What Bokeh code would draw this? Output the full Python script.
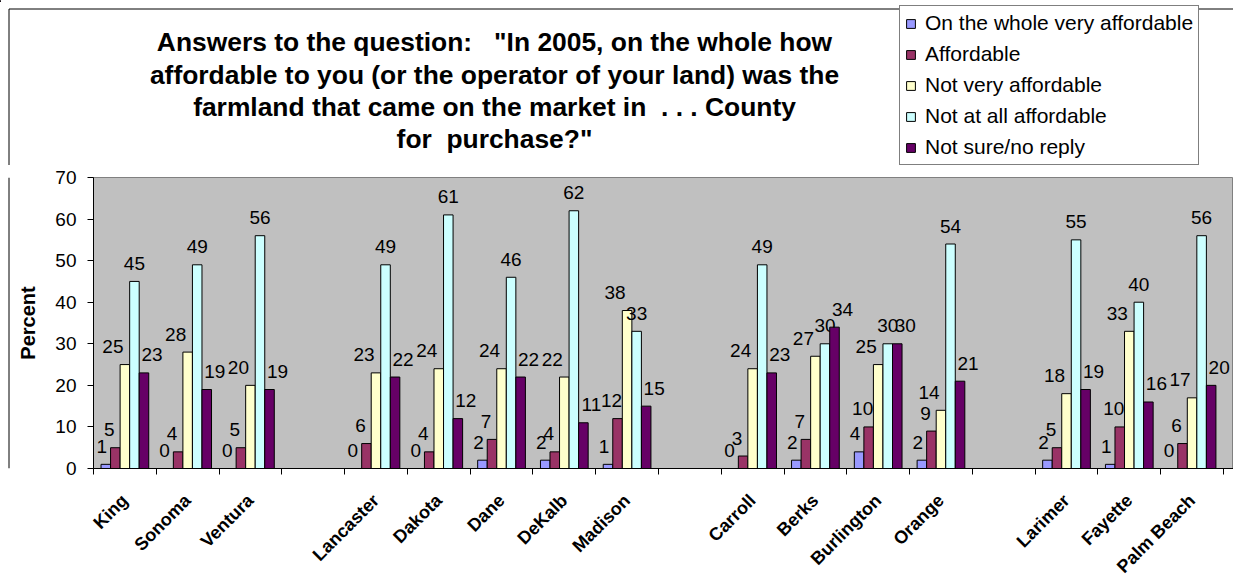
import math
from bokeh.plotting import figure
from bokeh.layouts import column, row
from bokeh.models import (Range1d, FixedTicker, Label, Legend, LegendItem,
                          ColumnDataSource, CustomJSTickFormatter)
from bokeh.core.properties import value
from bokeh.embed import file_html
from bokeh.resources import INLINE

# ---------------- data ----------------
NB = "\u00a0"
title_lines = [
    'Answers to the question:' + NB + NB + ' "In 2005, on the whole how',
    'affordable to you (or the operator of your land) was the',
    'farmland that came on the market in' + NB + ' . . . County',
    'for' + NB + ' purchase?"',
]
counties = ["King", "Sonoma", "Ventura",
            "Lancaster", "Dakota", "Dane", "DeKalb", "Madison",
            "Carroll", "Berks", "Burlington", "Orange",
            "Larimer", "Fayette", "Palm Beach"]
group_sizes = [3, 5, 4, 3]
series_names = ["On the whole very affordable", "Affordable", "Not very affordable",
                "Not at all affordable", "Not sure/no reply"]
very_affordable = [1, 0, 0, 0, 0, 2, 2, 1, 0, 2, 4, 2, 2, 1, 0]
affordable = [5, 4, 5, 6, 4, 7, 4, 12, 3, 7, 10, 9, 5, 10, 6]
not_very_affordable = [25, 28, 20, 23, 24, 24, 22, 38, 24, 27, 25, 14, 18, 33, 17]
not_at_all_affordable = [45, 49, 56, 49, 61, 46, 62, 33, 49, 30, 30, 54, 55, 40, 56]
not_sure = [23, 19, 19, 22, 12, 22, 11, 15, 23, 34, 30, 21, 19, 16, 20]
y_ticks = [0, 10, 20, 30, 40, 50, 60, 70]

series_values = [very_affordable, affordable, not_very_affordable,
                 not_at_all_affordable, not_sure]
colors = ["#9999FF", "#993366", "#FFFFCC", "#CCFFFF", "#660066"]

# ---------------- layout constants (window px) ----------------
WIN_W, WIN_H = 1233, 586
EDGE = 8                     # outer chart border
TOP_H = 165                  # header strip (title + legend)
FRAME_L, FRAME_T, FRAME_B = 90, 177, 469
STRIP_W = 14
BOT_W = WIN_W - STRIP_W
BOT_H = WIN_H - TOP_H

# category slots, one empty slot between groups
positions = []
slot = 0
for n in group_sizes:
    for k in range(n):
        positions.append(slot)
        slot += 1
    slot += 1
n_slots = slot - 1

# ---------------- header figure: title, legend, outer border ----------------
top = figure(width=WIN_W, height=TOP_H, output_backend="svg", toolbar_location=None,
             x_range=Range1d(0, WIN_W), y_range=Range1d(TOP_H, 0),
             x_axis_type=None, y_axis_type=None,
             min_border=0, min_border_left=0, min_border_right=0,
             min_border_top=0, min_border_bottom=0,
             outline_line_color=None, background_fill_color="white",
             border_fill_color="white")
top.xgrid.visible = False
top.ygrid.visible = False
top.line(x=[EDGE + 0.5, EDGE + 0.5, WIN_W], y=[TOP_H, EDGE + 0.5, EDGE + 0.5],
         line_color="black", line_width=1)

title_baselines = [41, 74, 106, 138]
for line, b in zip(title_lines, title_baselines):
    top.add_layout(Label(x=494, y=b, text=line, text_align="center",
                         text_baseline="alphabetic",
                         text_font="Liberation Sans", text_font_style="bold",
                         text_font_size="26.4px", text_color="black"))

dummies = []
for name, col in zip(series_names, colors):
    dummies.append(top.vbar(x=[-1000], top=[1], width=1, fill_color=col,
                            line_color="black", line_width=1))
legend = Legend(items=[LegendItem(label=n, renderers=[r]) for n, r in zip(series_names, dummies)],
                location=(899, 0),
                label_text_font="Liberation Sans", label_text_font_size="21px",
                label_text_color="black",
                glyph_width=11, glyph_height=11, label_standoff=9,
                label_height=22, spacing=7, padding=5, margin=0,
                border_line_color="black", border_line_width=1,
                background_fill_color="white", background_fill_alpha=1.0)
top.add_layout(legend)

# ---------------- left strip: outer border line ----------------
strip = figure(width=STRIP_W, height=BOT_H, output_backend="svg", toolbar_location=None,
               x_range=Range1d(0, STRIP_W), y_range=Range1d(0, BOT_H),
               x_axis_type=None, y_axis_type=None,
               min_border=0, min_border_left=0, min_border_right=0,
               min_border_top=0, min_border_bottom=0,
               outline_line_color=None, background_fill_color="white",
               border_fill_color="white")
strip.xgrid.visible = False
strip.ygrid.visible = False
strip.line(x=[EDGE + 0.5, EDGE + 0.5], y=[0, BOT_H], line_color="black", line_width=1)

# ---------------- main chart ----------------
p = figure(width=BOT_W, height=BOT_H, output_backend="svg", toolbar_location=None,
           x_range=Range1d(-0.5, n_slots - 0.34), y_range=Range1d(0, 70),
           min_border_left=FRAME_L - STRIP_W, min_border_top=FRAME_T - TOP_H,
           min_border_bottom=WIN_H - FRAME_B, min_border_right=0,
           background_fill_color="#C0C0C0", border_fill_color="white",
           outline_line_color="#808080", outline_line_width=1)
p.xgrid.visible = False
p.ygrid.visible = False

bw = 0.152
dx = [-4, -6, -12, 0, 8]
for j, (name, vals, col) in enumerate(zip(series_names, series_values, colors)):
    xs = [pp + (j - 2) * bw for pp in positions]
    src = ColumnDataSource(dict(x=xs, top=vals, lab=[str(v) for v in vals]))
    p.vbar(x="x", top="top", bottom=0, width=bw, source=src,
           fill_color=col, line_color="black", line_width=1)
    p.text(x="x", y="top", text="lab", source=src, x_offset=dx[j], y_offset=-18,
           text_align="center", text_baseline="alphabetic",
           text_font=value("Liberation Sans"), text_font_size="19px",
           text_color="black")

# y axis
ya = p.yaxis[0]
ya.ticker = FixedTicker(ticks=y_ticks)
ya.axis_line_color = "black"
ya.major_tick_line_color = "black"
ya.major_tick_out = 6
ya.major_tick_in = 0
ya.minor_tick_out = 0
ya.minor_tick_in = 0
ya.major_label_text_font = "Liberation Sans"
ya.major_label_text_font_size = "19px"
ya.major_label_text_color = "black"
ya.major_label_standoff = 11
ya.axis_label = "Percent"
ya.axis_label_text_font = "Liberation Sans"
ya.axis_label_text_font_style = "bold"
ya.axis_label_text_font_size = "20px"
ya.axis_label_text_color = "black"
ya.axis_label_standoff = 13

# x axis
xa = p.xaxis[0]
xa.ticker = FixedTicker(ticks=positions,
                        minor_ticks=[b - 0.5 for b in range(n_slots + 2)])
xa.formatter = CustomJSTickFormatter(args=dict(names=counties, pos=positions), code="""
    for (let i = 0; i < pos.length; i++) {
        if (Math.abs(pos[i] - tick) < 1e-6) { return names[i]; }
    }
    return "";
""")
xa.axis_line_color = "black"
xa.major_tick_out = 0
xa.major_tick_in = 0
xa.minor_tick_out = 6
xa.minor_tick_in = 0
xa.minor_tick_line_color = "black"
xa.major_label_orientation = math.pi / 4
xa.major_label_text_font = "Liberation Sans"
xa.major_label_text_font_style = "bold"
xa.major_label_text_font_size = "18px"
xa.major_label_text_color = "black"
xa.major_label_standoff = 23

layout = column(top, row(strip, p, spacing=0), spacing=0)
open("out.html", "w").write(file_html(layout, INLINE))
